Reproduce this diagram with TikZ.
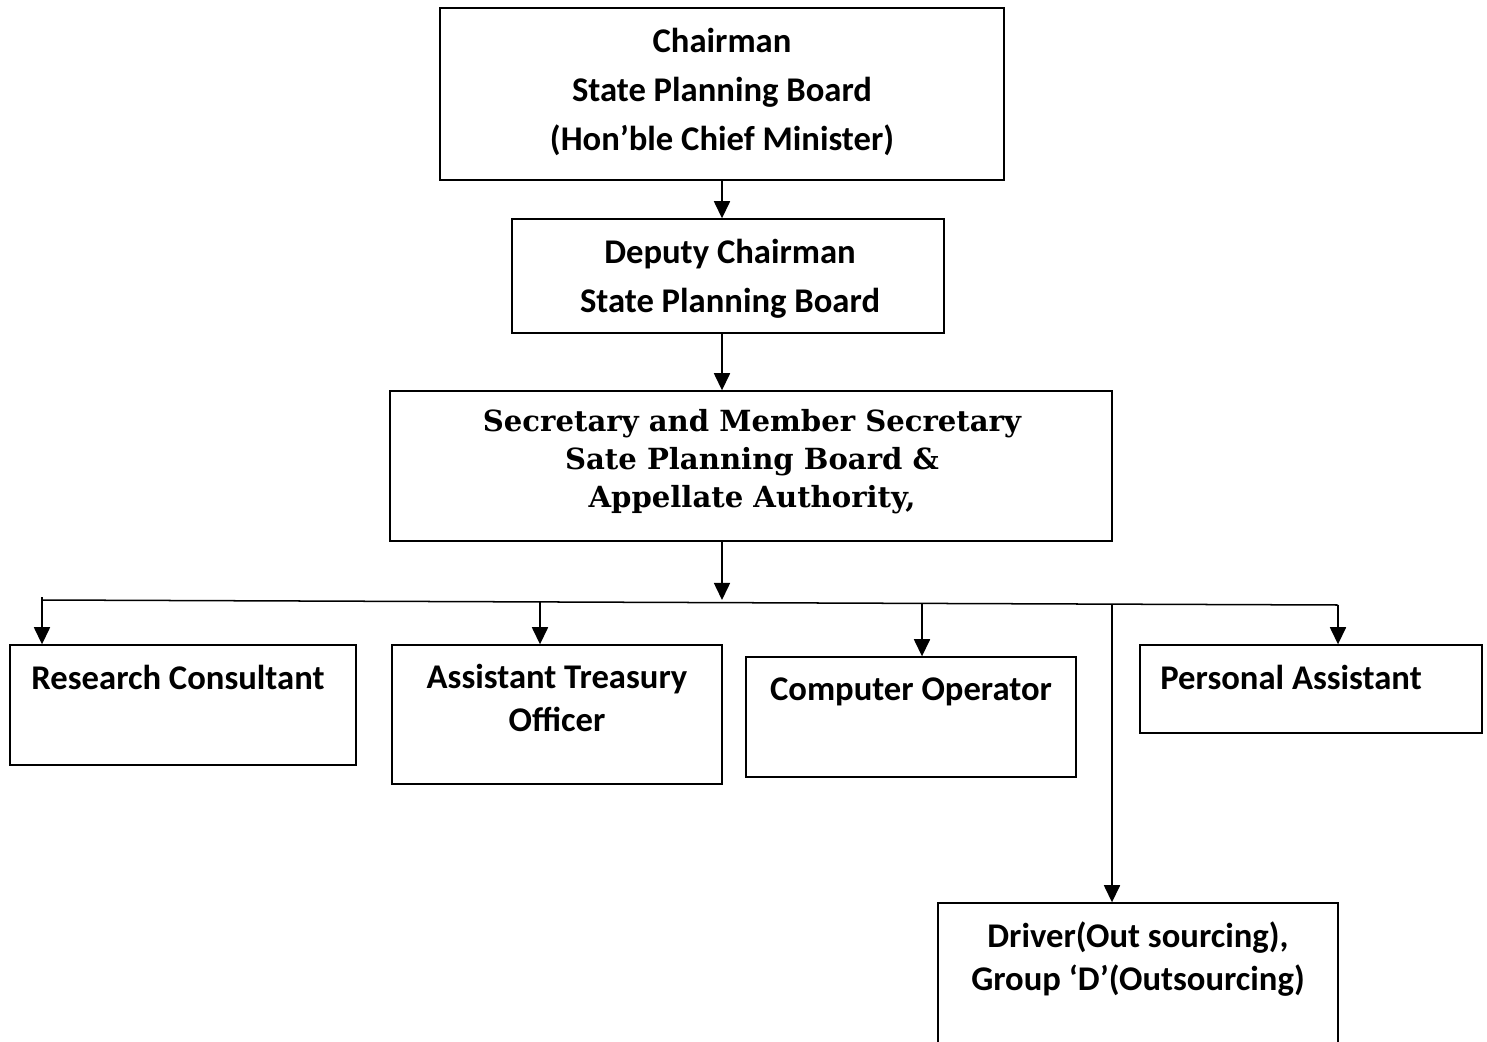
\documentclass[tikz,border=0pt]{standalone}
\usepackage{fontspec}
\setmainfont{Carlito}
\newfontfamily\secfont{DejaVu Serif}
\usetikzlibrary{arrows.meta}
\begin{document}
\begin{tikzpicture}[x=0.35mm,y=-0.35mm,
  box/.style={draw,line width=1.4pt,rectangle,inner sep=0pt},
  lbl/.style={align=center,inner sep=0pt,font=\fontsize{34.5}{42}\selectfont\bfseries},
  toplbl/.style={align=center,inner sep=0pt,font=\fontsize{34.5}{49}\selectfont\bfseries},
  seclbl/.style={align=center,inner sep=0pt,font=\fontsize{29}{38}\selectfont\secfont\bfseries},
  conn/.style={line width=1.5pt},
  arr/.style={line width=1.5pt,-{Triangle[width=16pt,length=17pt]}}]
\clip (0,0) rectangle (1487,1042);
% boxes
\node[box,minimum width=564*0.35mm,minimum height=172*0.35mm] (chair) at (722,94) {};
\node[box,minimum width=432*0.35mm,minimum height=114*0.35mm] (dep) at (728,276) {};
\node[box,minimum width=722*0.35mm,minimum height=150*0.35mm] (sec) at (751,466) {};
\node[box,minimum width=346*0.35mm,minimum height=120*0.35mm] (res) at (183,705) {};
\node[box,minimum width=330*0.35mm,minimum height=139*0.35mm] (ato) at (557,714.5) {};
\node[box,minimum width=330*0.35mm,minimum height=120*0.35mm] (comp) at (911,717) {};
\node[box,minimum width=342*0.35mm,minimum height=88*0.35mm] (pa) at (1311,689) {};
\node[box,minimum width=400*0.35mm,minimum height=160*0.35mm] (drv) at (1138,983) {};
% texts
\node[toplbl] (chairT) at (722,92) {Chairman\\State Planning Board\\(Hon’ble Chief Minister)};
\node[toplbl] (depT) at (730,279) {Deputy Chairman\\State Planning Board};
\node[seclbl] (secT) at (752,462) {Secretary and Member Secretary\\Sate Planning Board \&\\ Appellate Authority,};
\node[lbl] (resT) at (178,677) {Research Consultant};
\node[lbl] (atoT) at (557,698) {Assistant Treasury\\Officer};
\node[lbl] (compT) at (911,692) {Computer Operator};
\node[lbl] (paT) at (1291,677) {Personal Assistant};
\node[lbl] (drvT) at (1138,959) {Driver(Out sourcing),\\Group ‘D’(Outsourcing)};
% connectors
\coordinate (busL) at (42,600);
\coordinate (busR) at (1338,605);
\coordinate (spine) at (722,600);
\coordinate (d1) at (42,597);
\coordinate (d2) at (540,602);
\coordinate (d3) at (922,603);
\coordinate (d5) at (1112,604);
\draw[arr] (chair.south) -- (chair.south |- dep.north);
\draw[arr] (chair.south |- dep.south) -- (chair.south |- sec.north);
\draw[arr] (chair.south |- sec.south) -- (spine);
\draw[conn] (busL) -- (busR);
\draw[arr] (d1) -- (d1 |- res.north);
\draw[arr] (d2) -- (d2 |- ato.north);
\draw[arr] (d3) -- (d3 |- comp.north);
\draw[arr] (busR) -- (busR |- pa.north);
\draw[arr] (d5) -- (d5 |- drv.north);
\end{tikzpicture}
\end{document}
